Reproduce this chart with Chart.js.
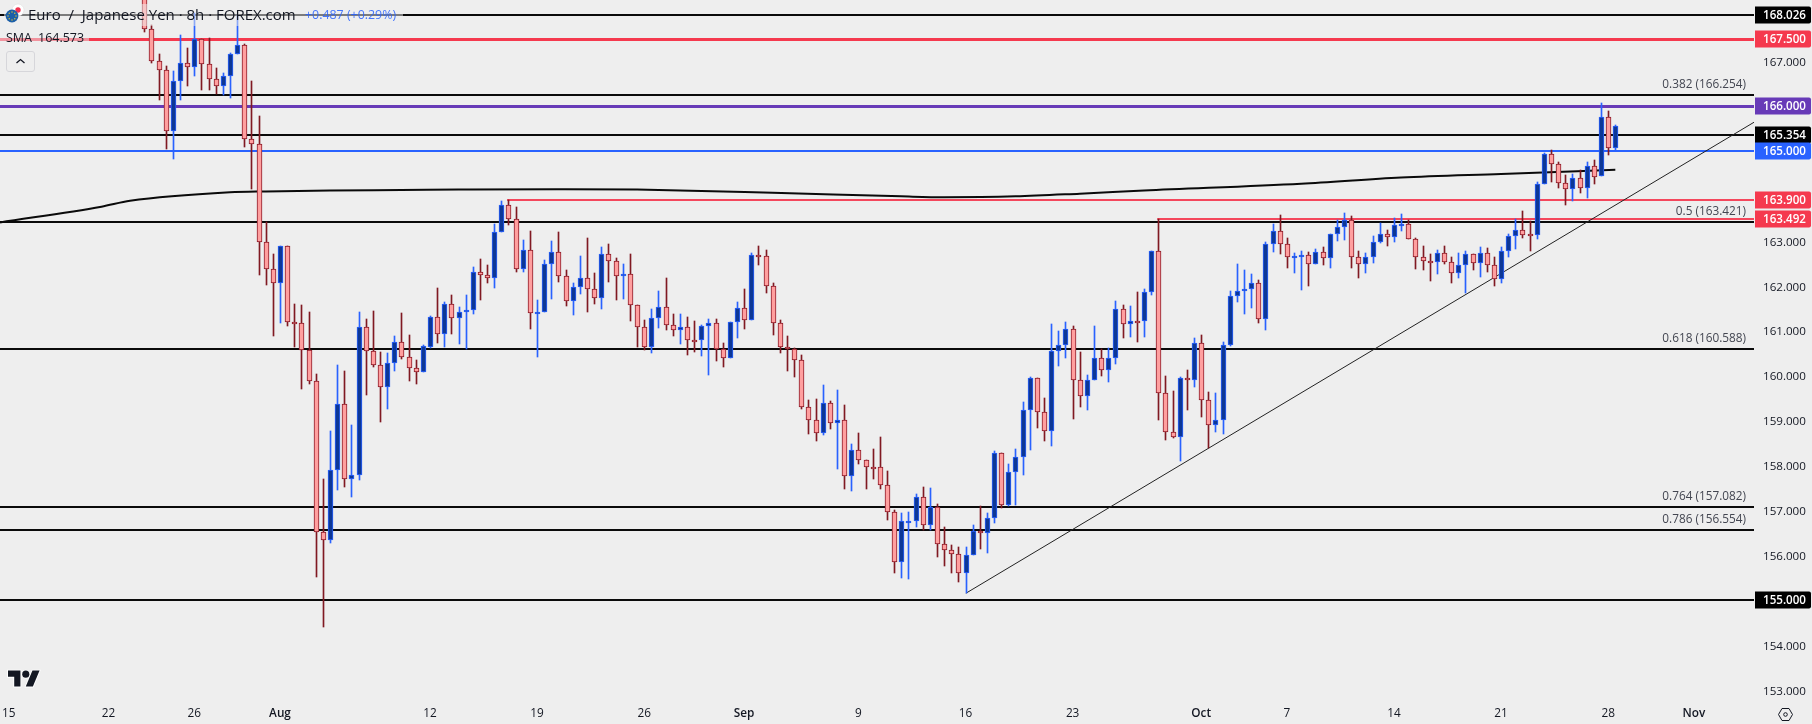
<!DOCTYPE html>
<html>
<head>
<meta charset="utf-8">
<title>EUR/JPY 8h</title>
<script src="https://cdn.jsdelivr.net/npm/chart.js@4/dist/chart.umd.min.js"></script>
<style>
html,body{margin:0;padding:0;background:#eeeeee;width:1812px;height:724px;overflow:hidden;font-family:"Open Sans",sans-serif;color:#131722}
#wrap{position:relative;width:1812px;height:724px}
canvas{position:absolute;left:0;top:0}
.ov{position:absolute;white-space:pre;background:rgba(238,238,238,.5)}
#title{left:4px;top:4px;width:399px;height:22px;line-height:21px;font-size:15px}
#title span.t{position:absolute;left:24px;top:0}
#title span.c{position:absolute;left:301px;top:0;font-size:12.4px;color:#2962ff;opacity:.85}
#sma{left:0;top:29px;width:89px;height:18px;line-height:18px;font-size:12.5px}
#sma span{position:absolute;top:0}
#btn{position:absolute;left:6px;top:51px;width:27px;height:19px;border:1px solid #d6d6da;border-radius:3px}
svg{position:absolute}
</style>
</head>
<body>
<div id="wrap">
<canvas id="c" width="1812" height="724"></canvas>
<div id="title" class="ov"><span class="t">Euro  /  Japanese Yen · 8h · FOREX.com</span><span class="c">+0.487 (+0.29%)</span></div>
<div id="sma" class="ov"><span style="left:6px">SMA</span><span style="left:38px">164.573</span></div>
<div id="btn"></div>
<svg style="left:6px;top:51px" width="29" height="21" viewBox="0 0 29 21"><path d="M10.5 12 L14.5 8.5 L18.5 12" fill="none" stroke="#131722" stroke-width="1.3"/></svg>
<svg style="left:4px;top:2px" width="22" height="22" viewBox="0 0 22 22">
<circle cx="14" cy="8" r="6" fill="#ffffff" stroke="#dddddd" stroke-width=".5"/><circle cx="14" cy="8" r="2.7" fill="#f0334f"/>
<circle cx="8" cy="14" r="6.4" fill="#1c5fa8"/>
<g fill="#e8c832"><circle cx="8" cy="10" r=".7"/><circle cx="8" cy="18" r=".7"/><circle cx="4" cy="14" r=".7"/><circle cx="12" cy="14" r=".7"/><circle cx="5.2" cy="11.2" r=".7"/><circle cx="10.8" cy="11.2" r=".7"/><circle cx="5.2" cy="16.8" r=".7"/><circle cx="10.8" cy="16.8" r=".7"/></g></svg>
<svg style="left:8px;top:667px;overflow:visible" width="32" height="25" viewBox="0 0 36 28"><g fill="#131722" stroke="#ffffff" stroke-width="2" paint-order="stroke"><path d="M14 22H7V11H0V4h14v18z"/><path d="M28 22h-8l7.5-18h8L28 22z"/><circle cx="20" cy="8" r="4"/></g></svg>
<svg style="left:1777px;top:706px" width="17" height="17" viewBox="0 0 17 17"><path d="M5 2.5 H12 L15.5 8.5 L12 14.5 H5 L1.5 8.5 Z" fill="none" stroke="#131722" stroke-width="1"/><circle cx="8.5" cy="8.5" r="1.8" fill="none" stroke="#131722" stroke-width="1"/></svg>
</div>
<script>
const opens=[169.00,167.72,167.01,166.81,165.45,166.56,166.96,166.86,167.50,166.94,166.60,166.45,166.67,167.16,167.36,165.27,165.16,162.97,162.37,162.05,162.88,161.19,161.17,160.57,159.87,156.51,156.33,157.89,159.36,157.69,157.78,161.08,160.54,160.23,159.75,160.28,160.74,160.41,160.16,160.07,160.64,161.30,160.92,161.59,161.28,161.41,161.46,162.30,162.23,162.17,163.20,163.80,163.48,162.37,162.79,161.40,161.41,162.48,162.75,162.21,161.66,161.97,162.17,161.92,161.72,162.70,162.55,162.21,162.26,161.57,161.08,160.64,161.28,161.52,161.12,161.01,161.08,160.78,160.78,161.10,161.17,160.59,160.39,161.19,161.50,161.23,162.68,162.66,161.99,161.17,160.64,160.59,160.34,159.29,159.02,158.73,159.38,158.94,159.00,157.76,158.34,158.11,157.97,157.96,157.57,156.95,155.84,156.74,156.75,157.29,156.66,157.07,156.24,156.11,156.02,155.60,156.00,156.53,156.49,156.82,158.27,157.12,157.85,158.18,159.23,159.94,159.18,158.76,160.54,160.68,161.03,159.90,159.55,159.90,160.39,160.12,160.39,161.48,161.14,161.21,161.21,161.85,162.77,159.61,158.74,158.62,159.94,159.91,160.72,159.45,158.89,159.00,160.68,161.77,161.88,161.92,162.06,161.26,162.93,163.22,162.93,162.66,162.67,162.68,162.48,162.75,162.62,163.15,163.31,163.46,162.64,162.48,162.64,162.97,163.15,163.08,163.37,163.37,163.04,162.64,162.55,162.53,162.73,162.52,162.29,162.46,162.70,162.50,162.73,162.46,162.15,162.77,163.11,163.24,163.15,163.13,164.26,164.93,164.71,164.29,164.15,164.40,164.18,164.67,164.44,165.76,165.07];
const highs=[169.30,167.81,167.15,166.89,166.79,167.59,167.30,168.08,167.50,167.52,166.85,166.74,167.18,168.04,167.39,166.57,165.78,163.41,162.70,162.88,162.88,161.60,161.57,161.42,160.03,157.70,158.77,160.24,160.10,158.90,161.42,161.26,161.44,160.53,160.50,160.88,161.40,160.91,160.35,160.68,161.33,161.95,161.64,161.80,161.53,161.80,162.42,162.60,162.47,163.38,163.89,163.91,163.76,163.02,163.22,161.69,162.58,163.00,163.20,162.35,162.07,162.67,163.07,162.29,162.87,162.93,162.62,162.49,162.71,161.57,161.24,161.49,161.89,162.18,161.37,161.37,161.31,161.22,161.13,161.26,161.26,160.72,161.19,161.64,161.93,162.73,162.89,162.80,162.06,161.23,160.88,160.61,160.46,159.46,159.47,159.79,159.43,159.68,159.35,158.48,158.72,158.11,158.37,158.63,157.88,157.01,156.94,156.96,157.36,157.52,157.50,157.14,156.63,156.23,156.18,156.18,156.67,157.10,156.94,158.32,158.27,158.03,158.37,159.41,159.97,159.94,159.50,161.15,160.99,161.20,161.11,160.53,160.01,161.11,160.59,160.62,161.66,161.57,161.55,161.86,161.93,162.77,163.48,159.99,159.66,159.96,160.13,160.84,160.91,159.64,159.61,160.75,161.89,162.49,162.36,162.27,162.13,162.98,163.38,163.58,163.07,162.73,162.78,162.76,162.82,162.87,163.16,163.47,163.63,163.56,162.78,162.73,163.11,163.40,163.24,163.51,163.60,163.47,163.07,162.89,162.70,162.80,162.89,162.64,162.73,162.78,162.70,162.87,162.85,162.64,162.87,163.16,163.48,163.67,163.44,164.32,164.96,165.02,164.76,164.47,164.49,164.58,164.76,164.81,166.08,165.88,165.59];
const lows=[167.64,166.96,166.14,165.05,164.83,166.14,166.44,166.66,166.35,166.35,166.27,166.25,166.19,167.16,165.10,164.16,162.23,162.02,160.88,161.17,161.11,160.64,159.71,159.80,155.52,154.40,156.28,157.44,157.52,157.30,157.67,159.57,160.20,158.97,159.26,160.09,160.36,159.88,159.82,160.07,160.62,160.72,160.64,160.93,160.71,160.59,161.37,161.69,162.07,161.95,163.20,163.36,162.31,162.31,161.04,160.42,161.41,161.71,162.09,161.55,161.35,161.82,161.42,161.60,161.49,162.09,161.69,161.71,161.22,160.64,160.57,160.51,161.06,161.02,160.88,160.71,160.46,160.53,160.44,160.01,160.33,160.19,160.39,160.84,161.04,161.23,162.47,161.84,160.91,160.51,160.10,159.97,159.26,158.70,158.54,158.68,158.81,157.92,157.47,157.43,158.03,157.47,157.70,157.47,156.78,155.60,155.49,155.47,156.63,156.56,156.56,155.96,155.76,155.60,155.40,155.15,156.00,156.14,156.05,156.72,157.06,157.10,157.12,157.79,158.34,158.83,158.54,158.43,160.22,160.39,159.03,159.30,159.24,159.90,159.98,159.86,160.26,160.84,160.86,160.75,160.86,161.80,159.01,158.57,158.60,158.10,159.23,159.75,159.08,158.38,158.74,158.70,160.65,161.64,161.37,161.51,161.17,161.02,162.76,162.71,162.40,162.29,161.91,162.00,162.48,162.47,162.40,163.00,163.02,162.40,162.18,162.29,162.51,162.94,162.89,162.97,163.22,163.04,162.38,162.35,162.11,162.27,162.49,162.07,162.18,161.84,162.35,162.20,162.31,162.00,162.07,162.64,162.82,163.07,162.78,163.05,164.26,164.32,164.18,163.80,163.89,164.07,163.96,164.27,164.44,164.90,165.02];
const closes=[167.72,167.00,166.81,165.45,166.56,166.96,166.86,167.50,166.94,166.60,166.45,166.67,167.16,167.36,165.27,165.16,162.97,162.37,162.05,162.88,161.19,161.15,160.57,159.87,156.51,156.33,157.89,159.36,157.69,157.78,161.08,160.54,160.23,159.75,160.28,160.74,160.41,160.16,160.07,160.65,161.30,160.92,161.59,161.28,161.41,161.46,162.30,162.23,162.17,163.20,163.80,163.48,162.37,162.79,161.39,161.41,162.48,162.75,162.21,161.66,161.97,162.17,161.92,161.72,162.70,162.55,162.21,162.26,161.57,161.08,160.64,161.28,161.52,161.12,161.01,161.08,160.78,160.77,161.10,161.17,160.59,160.39,161.19,161.50,161.23,162.68,162.67,161.99,161.17,160.64,160.59,160.34,159.29,159.02,158.73,159.38,158.94,159.00,157.76,158.34,158.11,157.97,157.96,157.57,156.95,155.84,156.75,156.75,157.29,156.66,157.07,156.24,156.11,156.02,155.60,156.00,156.53,156.49,156.82,158.27,157.12,157.85,158.18,159.23,159.94,159.18,158.76,160.54,160.68,161.03,159.90,159.55,159.90,160.39,160.12,160.39,161.48,161.14,161.21,161.20,161.86,162.77,159.61,158.74,158.62,159.94,159.91,160.72,159.45,158.89,159.00,160.68,161.77,161.88,161.92,162.06,161.26,162.93,163.22,162.93,162.64,162.67,162.68,162.48,162.75,162.62,163.15,163.31,163.46,162.64,162.48,162.64,162.97,163.15,163.08,163.35,163.38,163.04,162.64,162.55,162.54,162.73,162.52,162.29,162.46,162.70,162.50,162.73,162.46,162.15,162.77,163.11,163.24,163.14,163.13,164.26,164.93,164.71,164.29,164.15,164.40,164.18,164.67,164.42,165.76,165.07,165.56];

const smaIndex=[-20.2,-6,-2,12,17,26,36,44,58,69,88,106,112,122,131,140,162,176,190,206];
const smaValues=[163.41,163.76,163.89,164.08,164.10,164.12,164.13,164.14,164.15,164.14,164.07,163.99,163.97,163.99,164.05,164.12,164.27,164.41,164.49,164.58];

const trendIndex=[115.05,225.42];
const trendValues=[155.15,165.64];

const levelValues=[168.026,167.5,166.254,166,165.354,165,163.9,163.492,163.421,160.588,157.082,156.554,155];
const levelColors=["#0a0a0a","#f5394e","#0a0a0a","#673ab7","#0a0a0a","#2962ff","#f4475c","#f4475c","#0a0a0a","#0a0a0a","#0a0a0a","#0a0a0a","#0a0a0a"];
const levelWidths=[2,3,2,3,2,2,2,2,2,2,2,2,2];
const levelStarts=[null,null,null,null,null,null,50.8,141.85,null,null,null,null,null];

const fibLabels=["0.382 (166.254)","0.5 (163.421)","0.618 (160.588)","0.764 (157.082)","0.786 (156.554)"];
const fibValues=[166.254,163.421,160.588,157.082,156.554];

const tagValues=[168.026,167.5,166,165.354,165,163.9,163.492,155];
const tagLabels=["168.026","167.500","166.000","165.354","165.000","163.900","163.492","155.000"];
const tagColors=["#000000","#f5394e","#673ab7","#000000","#2962ff","#f5394e","#f5394e","#000000"];

const xTickIndex=[-19,-5,7,19,40,55,70,84,100,115,130,148,160,175,190,205,217];
const xTickLabels=["15","22","26","Aug","12","19","26","Sep","9","16","23","Oct","7","14","21","28","Nov"];
const yTickValues=[153,154,155,156,157,158,159,160,161,162,163,164,165,166,167,168];

const xMin=-20.21, xMax=225.42, yMin=152.773, yMax=168.363;
const FONT='"Open Sans", sans-serif';

const idx=opens.map((_,i)=>i);
const isUp=idx.map(i=>closes[i]>=opens[i]);
const wicks=idx.map(i=>({x:i,y:[lows[i],highs[i]]}));
const bodies=idx.map(i=>({x:i,y:[Math.min(opens[i],closes[i]),Math.max(opens[i],closes[i])]}));

const levelSets=levelValues.map((v,k)=>({
  type:'line',label:'level '+v,order:10,
  data:[{x:levelStarts[k]===null?xMin:levelStarts[k],y:v},{x:xMax,y:v}],
  borderColor:levelColors[k],borderWidth:levelWidths[k],pointRadius:0,tension:0,snap:true,borderCapStyle:'butt'
}));

const snapPlugin={id:'snap',afterDatasetsUpdate(chart){
  chart.getSortedVisibleDatasetMetas().forEach(meta=>{
    const ds=chart.data.datasets[meta.index];
    if(meta.type==='bar'){
      const minH=ds.isBody?2:1;
      meta.data.forEach(el=>{
        el.x=Math.round(el.x)+.5;
        let t=Math.round(el.y), b=Math.round(el.base);
        if(Math.abs(b-t)<minH) b=t+minH;
        el.y=t; el.base=b;
      });
    } else if(ds.snap){
      meta.data.forEach(el=>{
        el.y=ds.borderWidth%2?Math.round(el.y)+.5:Math.round(el.y);
      });
    }
  });
}};

const labelPlugin={id:'labels',afterDraw(chart){
  const c=chart.ctx, ys=chart.scales.y, area=chart.chartArea;
  c.save();
  c.textBaseline='middle';
  c.textAlign='right';
  c.font='11.8px '+FONT;
  c.fillStyle='#434651';
  fibLabels.forEach((t,i)=>{
    c.fillText(t,1746,Math.round(ys.getPixelForValue(fibValues[i]))-10.5);
  });
  tagValues.forEach((v,i)=>{
    const y=Math.round(ys.getPixelForValue(v));
    c.fillStyle=tagColors[i];
    c.beginPath();
    c.roundRect(area.right+1,y-8.5,56,17,[0,2,2,0]);
    c.fill();
    c.fillStyle='#ffffff';
    c.textAlign='left';
    c.font='600 11.6px '+FONT;
    c.fillText(tagLabels[i],1763,y+1);
  });
  c.restore();
}};

new Chart(document.getElementById('c'),{
  type:'bar',
  data:{datasets:[
    ...levelSets,
    {type:'line',label:'SMA',order:9,data:smaIndex.map((x,i)=>({x,y:smaValues[i]})),borderColor:'#0a0a0a',borderWidth:2,pointRadius:0,cubicInterpolationMode:'monotone'},
    {type:'line',label:'Trend',order:8,data:trendIndex.map((x,i)=>({x,y:trendValues[i]})),borderColor:'#222222',borderWidth:1,pointRadius:0,tension:0},
    {type:'bar',label:'Wicks',order:2,data:wicks,barThickness:1,grouped:false,
      backgroundColor:isUp.map(u=>u?'#2962ff':'#801922'),borderWidth:0},
    {type:'bar',label:'Bodies',order:1,isBody:true,data:bodies,barThickness:5,grouped:false,
      backgroundColor:isUp.map(u=>u?'#0d3796':'#ff9f9f'),
      borderColor:isUp.map(u=>u?'#2962ff':'#8e1a27'),borderWidth:1,borderSkipped:false}
  ]},
  options:{
    responsive:false,animation:false,
    layout:{padding:0},
    plugins:{legend:{display:false},tooltip:{enabled:false}},
    scales:{
      x:{type:'linear',min:xMin,max:xMax,offset:false,
        grid:{display:false,drawTicks:false},border:{display:false},
        afterBuildTicks(s){s.ticks=xTickIndex.map(value=>({value}));},
        afterFit(s){s.height=24;s.paddingLeft=0;s.paddingRight=0;},
        ticks:{autoSkip:false,maxRotation:0,padding:7,color:'#131722',
          font:(ctx)=>{const v=ctx.tick?ctx.tick.value:0;const l=xTickLabels[xTickIndex.indexOf(v)];return {family:FONT,size:11.8,weight:/[A-Z]/.test(l||'')?'600':'400'};},
          callback:(v)=>xTickLabels[xTickIndex.indexOf(v)]}
      },
      y:{type:'linear',position:'right',min:yMin,max:yMax,
        grid:{display:false,drawTicks:false},border:{display:false},
        afterBuildTicks(s){s.ticks=yTickValues.map(value=>({value}));},
        afterFit(s){s.width=58;s.paddingTop=0;s.paddingBottom=0;},
        ticks:{padding:9,labelOffset:1.5,color:'#131722',font:{family:FONT,size:11.6},callback:(v)=>v.toFixed(3)}
      }
    }
  },
  plugins:[snapPlugin,labelPlugin]
});
</script>
</body>
</html>
